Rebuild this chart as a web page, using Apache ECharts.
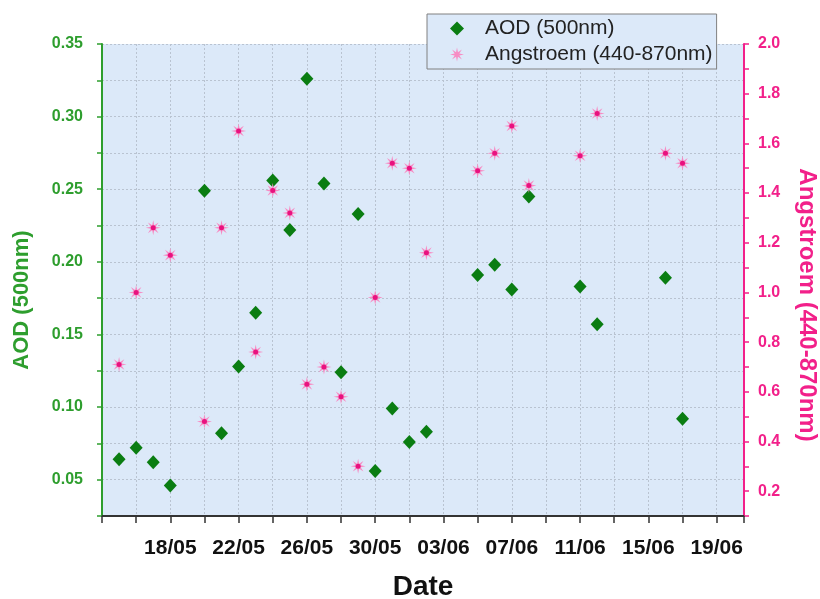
<!DOCTYPE html>
<html>
<head>
<meta charset="utf-8">
<script src="https://cdn.jsdelivr.net/npm/echarts@6/dist/echarts.min.js"></script>
<style>html,body{margin:0;padding:0;background:#fff}#c{width:820px;height:599px}</style>
</head>
<body>
<div id="c"></div>
<script>
// ---- data ----
const dates = ['15/05','16/05','17/05','18/05','20/05','21/05','22/05','23/05','24/05','25/05',
  '26/05','27/05','28/05','29/05','30/05','31/05','01/06','02/06','05/06','06/06',
  '07/06','08/06','11/06','12/06','16/06','17/06'];
const aod = [0.064,0.072,0.062,0.046,0.249,0.082,0.128,0.165,0.256,0.222,
  0.326,0.254,0.124,0.233,0.056,0.099,0.076,0.083,0.191,0.198,
  0.181,0.245,0.183,0.157,0.189,0.092];
const angstrom = [0.71,1.00,1.26,1.15,0.48,1.26,1.65,0.76,1.41,1.32,
  0.63,0.70,0.58,0.30,0.98,1.52,1.50,1.16,1.49,1.56,
  1.67,1.43,1.55,1.72,1.56,1.52];
const xTickLabels = ['18/05','22/05','26/05','30/05','03/06','07/06','11/06','15/06','19/06'];
const leftTickLabels = ['0.05','0.10','0.15','0.20','0.25','0.30','0.35'];
const rightTickLabels = ['0.2','0.4','0.6','0.8','1.0','1.2','1.4','1.6','1.8','2.0'];
const year = 2013;
const startDate = '14/05';
const leftTitle = 'AOD (500nm)';
const rightTitle = 'Angstroem (440-870nm)';
const xTitle = 'Date';

function dayNum(s){ const p = s.split('/'); return Date.UTC(year, +p[1]-1, +p[0]) / 86400000; }
const base = dayNum(startDate);
const xs = dates.map(d => dayNum(d) - base);

// asterisk-like star path
function starPath(n, R, r){
  let s = '';
  for (let k = 0; k < 2*n; k++){
    const a = Math.PI * k / n - Math.PI/2;
    const rad = (k % 2 === 0) ? R : r;
    const x = (10 + rad*Math.cos(a)).toFixed(2), y = (10 + rad*Math.sin(a)).toFixed(2);
    s += (k === 0 ? 'M' : 'L') + x + ',' + y;
  }
  return 'path://' + s + 'Z';
}
const star = starPath(8, 10, 3.6);

const GREEN = '#2e9e2e', PINK = '#f2208a', FONT = 'Liberation Sans, Arial, sans-serif';
const GRIDC = '#b9c3d1';
const chart = echarts.init(document.getElementById('c'), null, {renderer:'canvas'});
chart.setOption({
  animation: false,
  backgroundColor: '#ffffff',
  grid: { left: 102, right: 76, top: 44, bottom: 83, show: true, backgroundColor: '#dce9f9', borderWidth: 0,
          containLabel: false, outerBoundsMode: 'none' },
  legend: {
    orient: 'vertical', left: 427, top: 14, padding: [4, 4, 4, 23], itemGap: 5,
    itemWidth: 14, itemHeight: 14,
    backgroundColor: '#dce9f9', borderColor: '#808080', borderWidth: 1,
    textStyle: { fontSize: 21, fontFamily: FONT, color: '#222', padding: [0, 0, 0, 16] },
    data: [{ name: 'AOD (500nm)', icon: 'diamond' }, { name: 'Angstroem (440-870nm)', icon: star }]
  },
  graphic: [
    { type: 'text', x: 22, y: 300, rotation: Math.PI/2, silent: true,
      style: { text: leftTitle, font: 'bold 22px Liberation Sans, Arial, sans-serif', fill: GREEN, align: 'center', verticalAlign: 'middle' } },
    { type: 'text', x: 807, y: 305, rotation: -Math.PI/2, silent: true,
      style: { text: rightTitle, font: 'bold 24px Liberation Sans, Arial, sans-serif', fill: PINK, align: 'center', verticalAlign: 'middle' } }
  ],
  xAxis: {
    type: 'value', min: 0, max: 37.6, interval: 2,
    name: xTitle, nameLocation: 'middle', nameGap: 57,
    nameTextStyle: { fontSize: 28, fontWeight: 'bold', fontFamily: FONT, color: '#111' },
    axisLine: { onZero: false, lineStyle: { color: '#333', width: 2 } },
    axisTick: { length: 7, lineStyle: { color: '#333', width: 1.5 } },
    axisLabel: {
      margin: 22, fontSize: 21, fontWeight: 'bold', fontFamily: FONT, color: '#111',
      formatter: v => (v > 0 && Math.abs(v % 4) < 1e-6 && v/4 - 1 < xTickLabels.length) ? xTickLabels[v/4 - 1] : ''
    },
    splitLine: { show: true, lineStyle: { color: GRIDC, type: [2, 2], width: 1 } }
  },
  yAxis: [{
    type: 'value', position: 'left', min: 0.025, max: 0.35, interval: 0.025,
    axisLine: { show: true, lineStyle: { color: GREEN, width: 2 } },
    axisTick: { show: true, length: 5, lineStyle: { color: GREEN, width: 1.5 } },
    axisLabel: {
      margin: 19, fontSize: 16, fontWeight: 'bold', fontFamily: FONT, color: GREEN,
      formatter: v => { const k = Math.round(v*1000); return k % 50 === 0 ? leftTickLabels[k/50 - 1] : ''; }
    },
    splitLine: { show: true, lineStyle: { color: GRIDC, type: [2, 2], width: 1 } }
  }, {
    type: 'value', position: 'right', min: 0.1, max: 2.0, interval: 0.1,
    axisLine: { show: true, lineStyle: { color: PINK, width: 2 } },
    axisTick: { show: true, length: 5, lineStyle: { color: PINK, width: 1.5 } },
    axisLabel: {
      margin: 14, fontSize: 16, fontWeight: 'bold', fontFamily: FONT, color: PINK,
      formatter: v => { const k = Math.round(v*10); return k % 2 === 0 ? rightTickLabels[k/2 - 1] : ''; }
    },
    splitLine: { show: false }
  }],
  series: [{
    name: 'AOD (500nm)', type: 'scatter', yAxisIndex: 0, symbol: 'diamond', symbolSize: [13, 14],
    itemStyle: { color: '#0a7d12', opacity: 1 },
    data: xs.map((x, i) => [x, aod[i]])
  }, {
    name: 'Angstroem (440-870nm)', type: 'scatter', yAxisIndex: 1, symbol: star, symbolSize: 15,
    itemStyle: { color: '#f78cc4', opacity: 1 },
    data: xs.map((x, i) => [x, angstrom[i]])
  }, {
    name: 'Angstroem centre', type: 'scatter', yAxisIndex: 1, symbol: 'circle', symbolSize: 5,
    itemStyle: { color: '#e8127f', opacity: 1 }, silent: true,
    data: xs.map((x, i) => [x, angstrom[i]])
  }]
});
</script>
</body>
</html>
